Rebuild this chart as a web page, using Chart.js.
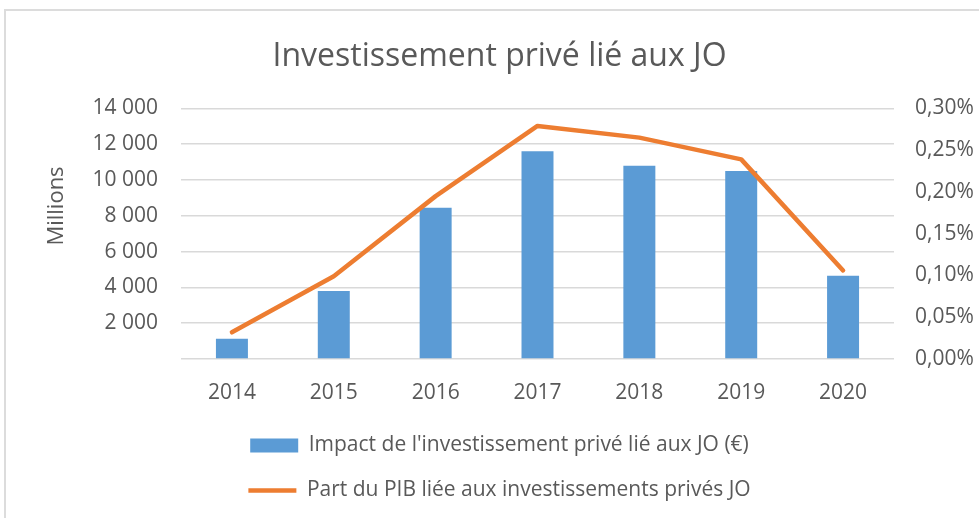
<!DOCTYPE html>
<html>
<head>
<meta charset="utf-8">
<style>
  body { margin: 0; background: #fff; overflow: hidden; }
  #frame { position: absolute; left: 4px; top: 9px; width: 1100px; height: 700px; border-top: 2px solid #dcdcdc; border-left: 2px solid #dcdcdc; }
  #mychart { position: absolute; left: 0; top: 0; }
</style>
</head>
<body>
<div id="frame"></div>
<canvas id="mychart" width="979" height="518"></canvas>
<script src="https://cdn.jsdelivr.net/npm/chart.js"></script>
<script>
// données
let years = ['2014', '2015', '2016', '2017', '2018', '2019', '2020'];
let investissement = [1130, 3800, 8450, 11600, 10800, 10500, 4650]; // millions €
let partPib = [0.032, 0.099, 0.195, 0.279, 0.265, 0.239, 0.106]; // en %
let leftTicks = [0, 2000, 4000, 6000, 8000, 10000, 12000, 14000];
let rightTicks = [0, 0.05, 0.10, 0.15, 0.20, 0.25, 0.30];

let grey = '#595959';
let font = '"Open Sans", sans-serif';

// "Millions" à gauche
let axisLabel = {
  id: 'axisLabel',
  afterDraw(chart) {
    let c = chart.ctx;
    c.save();
    c.translate(57, 206);
    c.rotate(-Math.PI / 2);
    c.font = '22px ' + font;
    c.fillStyle = grey;
    c.textAlign = 'center';
    c.textBaseline = 'middle';
    c.fillText('Millions', 0, 0);
    c.restore();
  }
};

let ctx = document.getElementById('mychart');
let myChart = new Chart(ctx, {
  data: {
    labels: years,
    datasets: [{
      type: 'bar',
      label: "Impact de l'investissement privé lié aux JO (€)",
      data: investissement,
      backgroundColor: '#5b9bd5',
      yAxisID: 'y',
      order: 1,
      categoryPercentage: 1,
      barPercentage: 0.314,
      pointStyle: 'rect',
    }, {
      type: 'line',
      label: 'Part du PIB liée aux investissements privés JO',
      data: partPib,
      borderColor: '#ed7d31',
      backgroundColor: '#ed7d31',
      borderWidth: 4.5,
      borderCapStyle: 'round',
      borderJoinStyle: 'round',
      pointRadius: 0,
      pointStyle: 'line',
      tension: 0,
      yAxisID: 'y1',
      order: 0,
    }],
  },
  options: {
    responsive: false,
    animation: false,
    layout: { padding: { left: 20, right: 0, top: 0, bottom: 7 } },
    plugins: {
      title: {
        display: true,
        text: 'Investissement privé lié aux JO',
        color: grey,
        font: { family: font, size: 32, weight: 'normal' },
        padding: { top: 38, bottom: 32 },
      },
      legend: {
        position: 'bottom',
        labels: {
          color: grey,
          font: { family: font, size: 21 },
          usePointStyle: true,
          pointStyleWidth: 48,
          boxHeight: 14,
          padding: 24,
          sort: (a, b) => a.datasetIndex - b.datasetIndex,
        },
      },
      tooltip: { enabled: false },
    },
    scales: {
      x: {
        grid: { display: false, drawTicks: false },
        border: { display: false },
        ticks: { color: grey, font: { family: font, size: 21 }, padding: 21 },
        afterFit: (s) => { s.height = 52; },
      },
      y: {
        position: 'left',
        min: 0,
        max: 14000,
        afterBuildTicks: (s) => { s.ticks = leftTicks.map(v => ({ value: v })); },
        grid: { color: '#d9d9d9', lineWidth: 1.5, drawTicks: false },
        border: { display: false },
        ticks: {
          color: grey,
          font: { family: font, size: 21 },
          padding: 23,
          callback: (v) => v === 0 ? '' : String(v).replace(/\B(?=(\d{3})+(?!\d))/g, ' '),
        },
        afterFit: (s) => { s.width = 161; },
      },
      y1: {
        position: 'right',
        min: 0,
        max: 0.30,
        afterBuildTicks: (s) => { s.ticks = rightTicks.map(v => ({ value: v })); },
        grid: { drawOnChartArea: false, drawTicks: false },
        border: { display: false },
        ticks: {
          color: grey,
          font: { family: font, size: 21 },
          padding: 21,
          callback: (v) => v.toFixed(2).replace('.', ',') + '%',
        },
        afterFit: (s) => { s.width = 85; },
      },
    },
  },
  plugins: [axisLabel],
});
</script>
</body>
</html>
